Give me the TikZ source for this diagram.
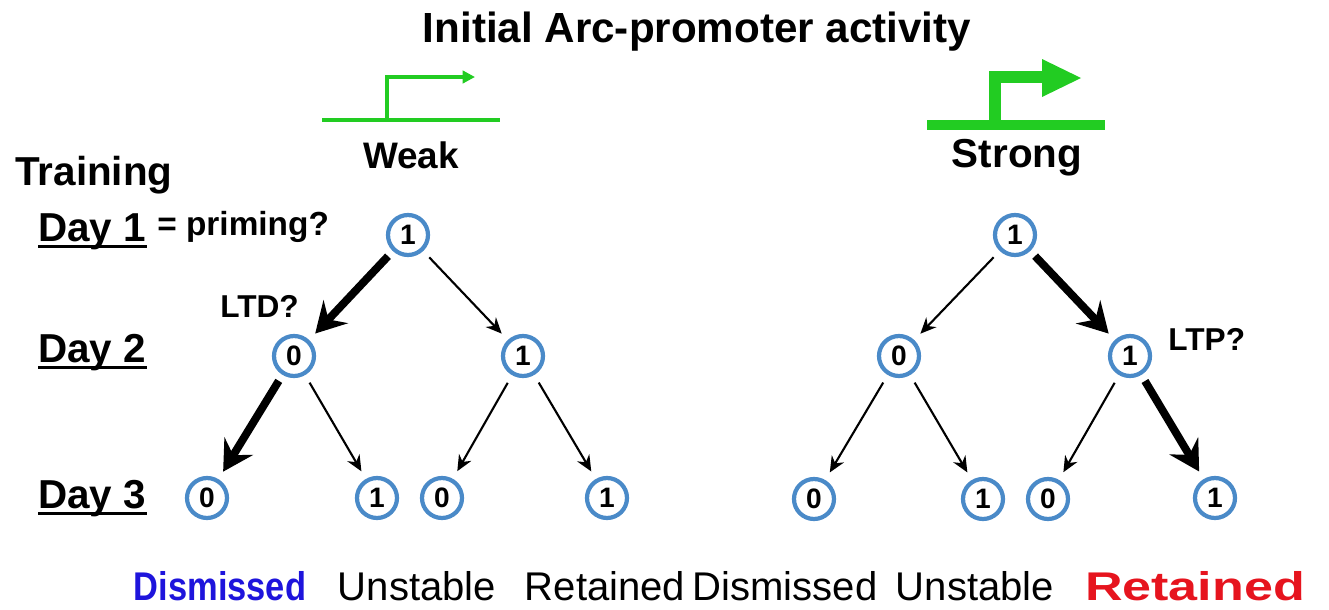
\documentclass[tikz,border=0pt]{standalone}
\usepackage{fontspec}
\setmainfont{Liberation Sans}
\usepackage{graphicx}
\usetikzlibrary{arrows.meta}

\definecolor{promgreen}{RGB}{34,204,34}
\definecolor{ringblue}{RGB}{74,138,200}
\definecolor{fateblue}{RGB}{30,20,220}
\definecolor{fatered}{RGB}{230,20,30}

\newcommand{\fsz}[1]{\fontsize{#1}{#1}\selectfont}

\begin{document}
\begin{tikzpicture}[x=0.02cm, y=-0.02cm,
  cellnode/.style={draw=ringblue, circle, line width=2.4pt, minimum size=0.8cm,
                   inner sep=0pt, font=\fsz{16pt}\bfseries},
  daylabel/.style={anchor=base west, inner sep=0pt, font=\fsz{23pt}\bfseries},
  fate/.style={anchor=base, inner sep=0pt, font=\fsz{22.8pt}},
  thinarr/.style={-{Stealth[length=9pt,width=8pt]}, line width=1.2pt,
                  shorten <=5pt, shorten >=5pt},
  thickarr/.style={-{Stealth[length=17pt,width=19pt,inset=6pt]}, line width=4.5pt,
                   shorten <=4pt, shorten >=5pt},
]
  \useasboundingbox (0,0) rectangle (1329,609);

  % Title
  \node[anchor=base, font=\fsz{24pt}\bfseries] (title) at (697,42) {Initial Arc-promoter activity};

  % Promoters
  \draw[promgreen, line width=2.2pt] (322,120) -- (500,120);
  \draw[promgreen, line width=2.2pt, -{Triangle[length=7pt,width=7pt]}]
    (387,120) -- (387,77) -- (475,77);
  \node[anchor=base, font=\fsz{21pt}\bfseries] (weak) at (411,168) {Weak};

  \draw[promgreen, line width=6pt] (927,125) -- (1105,125);
  \draw[promgreen, line width=6.8pt, line join=miter] (995,125) -- (995,77) -- (1044,77);
  \fill[promgreen] (1042,59) -- (1081,78) -- (1042,97) -- cycle;
  \node[anchor=base, font=\fsz{23pt}\bfseries] (strong) at (1017,167) {Strong};

  % Days
  \node[anchor=base west, inner sep=0pt, font=\fsz{23pt}\bfseries] (training) at (15,185) {Training};
  \foreach \d/\y in {1/241, 2/362, 3/508} {
    \node[daylabel] (day\d) at (38,\y) {Day \d};
    \draw[line width=1.7pt] ([yshift=-3.4pt]day\d.base west) -- ([yshift=-3.4pt]day\d.base east);
  }
  \node[anchor=base west, inner sep=0pt, font=\fsz{19pt}\bfseries] (priming) at (157,235) {= priming?};

  % Weak tree
  \node[cellnode] (w1) at (408,235) {1};
  \node[cellnode] (w2a) at (294,356) {0};
  \node[cellnode] (w2b) at (523,356) {1};
  \node[cellnode] (w3a) at (207,498) {0};
  \node[cellnode] (w3b) at (377,498) {1};
  \node[cellnode] (w3c) at (442,498) {0};
  \node[cellnode] (w3d) at (607,498) {1};

  % Strong tree
  \node[cellnode] (s1) at (1015,235) {1};
  \node[cellnode] (s2a) at (899,356) {0};
  \node[cellnode] (s2b) at (1130,356) {1};
  \node[cellnode] (s3a) at (814,499) {0};
  \node[cellnode] (s3b) at (983,499) {1};
  \node[cellnode] (s3c) at (1048,499) {0};
  \node[cellnode] (s3d) at (1215,498) {1};

  % Arrows
  \foreach \a/\b in {w1/w2b, w2a/w3b, w2b/w3c, w2b/w3d, s1/s2a, s2a/s3a, s2a/s3b, s2b/s3c}
    \draw[thinarr] (\a) -- (\b);
  \foreach \a/\b in {w1/w2a, w2a/w3a, s1/s2b, s2b/s3d}
    \draw[thickarr] (\a) -- (\b);

  \node[anchor=base west, inner sep=0pt, font=\fsz{18pt}\bfseries] (ltd) at (220,317) {LTD?};
  \node[anchor=base west, inner sep=0pt, font=\fsz{18pt}\bfseries] (ltp) at (1168,350) {LTP?};

  % Outcomes
  \node[fate, text=fateblue, font=\fsz{22.8pt}\bfseries] (f1) at (220,600) {\scalebox{0.86}[1]{Dismissed}};
  \node[fate] (f2) at (417,600) {Unstable};
  \node[fate] (f3) at (605,600) {Retained};
  \node[fate] (f4) at (785,600) {Dismissed};
  \node[fate] (f5) at (975,600) {Unstable};
  \node[fate, text=fatered, font=\fsz{22.8pt}\bfseries] (f6) at (1195,600) {\scalebox{1.3}[1]{Retained}};
\end{tikzpicture}
\end{document}
